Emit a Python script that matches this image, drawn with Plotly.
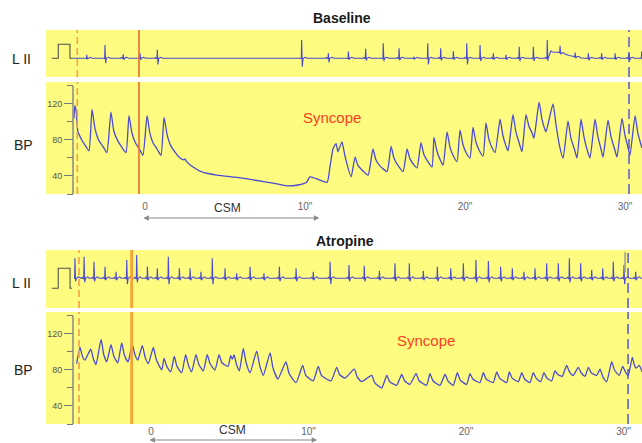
import numpy as np
import plotly.graph_objects as go

# ------------------------------------------------------------------
# Baseline recording
# ------------------------------------------------------------------
# arterial pressure trace, vertices (time in s, pressure in mmHg)
bp_base_t = [-4.44, -4.38, -4.3, -4.2, -3.95, -3.7, -3.5,
             -3.31, -3.12, -2.9, -2.6, -2.38,
             -2.13, -1.95, -1.7, -1.45, -1.19,
             -1.0, -0.82, -0.6, -0.35, -0.13,
             0.13, 0.3, 0.5, 0.75, 1.0,
             1.19, 1.38, 1.6, 1.9, 2.19, 2.44, 2.5, 2.6, 3.0, 3.63, 4.5, 5.94,
             7.0, 8.0, 8.88, 9.56, 10.1, 10.3, 10.7, 11.38,
             11.56, 11.75, 11.94, 12.06, 12.31, 12.5, 12.88,
             13.13, 13.3, 13.6, 13.94,
             14.25, 14.43, 14.7, 15.13,
             15.38, 15.56, 15.8, 16.13,
             16.38, 16.56, 16.78, 17.0,
             17.25, 17.43, 17.68, 17.94,
             18.06, 18.24, 18.45, 18.63,
             18.88, 19.06, 19.28, 19.5,
             19.69, 19.87, 20.1, 20.31,
             20.5, 20.68, 20.9, 21.13,
             21.31, 21.49, 21.7, 21.88,
             22.19, 22.37, 22.55, 22.69,
             23.0, 23.18, 23.4, 23.56,
             23.81, 24.0, 24.19, 24.31,
             24.63, 24.8, 24.95, 25.06,
             25.5, 25.68, 25.9, 26.13,
             26.44, 26.62, 26.85, 27.0,
             27.25, 27.43, 27.62, 27.81,
             28.13, 28.3, 28.5, 28.63,
             28.94, 29.12, 29.35, 29.5,
             29.81, 30.0, 30.2, 30.31,
             30.63, 30.8, 31.06]
bp_base_v = [104, 118, 112, 90, 80, 73, 68,
             114, 92, 80, 72, 66,
             111, 90, 79, 72, 66,
             107, 88, 77, 70, 63,
             107, 88, 77, 70, 63,
             105, 86, 74, 66, 60, 58, 59, 56, 50, 44, 41, 38,
             35, 32, 29, 30, 33, 39, 37, 33,
             50, 70, 76, 67, 78, 62, 39,
             61, 52, 46, 41,
             70, 58, 51, 45,
             73, 60, 52, 45,
             70, 59, 53, 49,
             77, 64, 56, 50,
             83, 68, 58, 52,
             89, 72, 62, 56,
             91, 75, 65, 60,
             94, 78, 68, 62,
             99, 81, 71, 66,
             103, 85, 74, 68,
             108, 89, 76, 67,
             108, 95, 88, 82,
             122, 104, 94, 89,
             120, 98, 74, 60,
             101, 82, 69, 60,
             103, 84, 70, 60,
             103, 84, 70, 61,
             102, 84, 70, 61,
             104, 85, 71, 63,
             107, 88, 71]

# lead II: beat times (s), R and S amplitudes (mV)
ecg_base_t = [-3.64, -2.5, -1.36, -0.31, 0.77, 9.79, 11.46, 12.71, 13.79, 14.89,
              15.88, 16.81, 17.67, 18.48, 19.27, 20.11, 20.94, 21.77, 22.56, 23.39,
              24.27, 25.14, 25.94, 26.88, 27.71, 28.54, 29.38, 30.25, 31.04]
ecg_base_r = [0.24, 0.95, 0.29, 0.36, 0.6, 1.31, 0.36, 0.48, 0.67, 1.07,
              0.71, 0.12, 1.07, 0.71, 0.52, 1.07, 0.95, 0.36, 0.24, 0.83,
              0.83, 1.31, 0.48, 0.29, 0.36, 0.36, 0.36, 0.36, 0.48]
ecg_base_s = [-0.05, -0.35, -0.1, -0.1, -0.45, -0.6, -0.3, -0.1, -0.15, -0.2,
              -0.15, -0.05, -0.45, -0.15, -0.1, -0.45, -0.2, -0.1, -0.1, -0.2,
              -0.2, -0.2, -0.1, -0.1, -0.15, -0.1, -0.1, -0.15, -0.1]
# baseline wander after the beat at ~25 s
ecg_base_drift_t = [25.2, 25.35, 25.9, 26.5, 27.4]
ecg_base_drift_v = [0.0, 0.45, 0.42, 0.2, 0.0]

# ------------------------------------------------------------------
# Atropine recording
# ------------------------------------------------------------------
bp_atro_t = [-4.72, -4.51, -4.35, -4.19,
             -3.83, -3.65, -3.49,
             -3.17, -3.0, -2.81,
             -2.54, -2.35, -2.11,
             -1.86, -1.68, -1.46,
             -1.19, -1.02, -0.84,
             -0.55, -0.37, -0.17,
             0.15, 0.33, 0.68,
             0.83, 1.0, 1.25,
             1.48, 1.65, 1.95,
             2.2, 2.38, 2.58,
             2.86, 3.04, 3.32,
             3.57, 3.75, 4.06,
             4.32, 4.5, 4.89,
             5.06, 5.17, 5.27, 5.43, 5.61,
             5.86, 6.04, 6.29,
             6.71, 6.9, 7.13,
             7.56, 7.75, 8.06,
             8.57, 8.77, 9.21,
             9.63, 9.83, 10.3,
             10.62, 10.82, 11.43,
             11.79, 11.97, 12.32,
             12.91, 13.1, 13.38,
             14.01, 14.2, 14.65,
             14.97, 15.16, 15.6,
             15.92, 16.1, 16.44,
             16.83, 17.02, 17.5,
             17.71, 17.9, 18.35,
             18.67, 18.85, 19.19,
             19.45, 19.63, 20.04,
             20.25, 20.43, 20.89,
             21.1, 21.28, 21.73,
             21.95, 22.13, 22.58,
             22.75, 22.93, 23.32,
             23.54, 23.72, 24.06,
             24.27, 24.45, 24.74,
             24.95, 25.13, 25.44,
             25.65, 25.83, 26.11,
             26.39, 26.57, 26.81,
             27.13, 27.3, 27.56,
             27.77, 27.95, 28.3,
             28.51, 28.7, 28.93,
             29.25, 29.43, 29.73,
             29.95, 30.12, 30.3,
             30.56, 30.68, 30.79,
             31.0, 31.17]
bp_atro_v = [87, 105, 95, 91,
             103, 92, 86,
             114, 97, 89,
             108, 95, 88,
             110, 96, 89,
             108, 97, 91,
             107, 94, 87,
             105, 92, 80,
             93, 84, 78,
             95, 84, 77,
             97, 85, 78,
             97, 86, 79,
             97, 87, 80,
             97, 88, 84,
             96, 92, 97, 86, 79,
             104, 88, 77,
             101, 85, 74,
             99, 82, 70,
             89, 76, 66,
             85, 74, 68,
             84, 74, 68,
             83, 75, 71,
             81, 72, 67,
             74, 66, 60,
             74, 67, 63,
             75, 68, 64,
             76, 68, 63,
             76, 68, 63,
             75, 68, 63,
             77, 69, 64,
             76, 70, 66,
             77, 70, 66,
             78, 71, 66,
             78, 71, 67,
             77, 70, 66,
             77, 71, 67,
             77, 71, 68,
             79, 75, 73,
             85, 78, 74,
             83, 77, 73,
             83, 77, 74,
             81, 72, 67,
             89, 80, 74,
             84, 78, 74,
             94, 86, 82,
             85, 78]

ecg_atro_t = [-4.83, -4.25, -3.62, -2.92, -2.22, -1.54, -0.91, -0.23, 0.4, 1.1,
              1.8, 2.48, 3.17, 3.89, 4.7, 5.44, 6.29, 7.17, 8.15, 9.21,
              10.3, 11.37, 12.57, 13.54, 14.5, 15.49, 16.4, 17.29, 18.18, 19.03,
              19.83, 20.63, 21.42, 22.2, 22.94, 23.68, 24.38, 25.12, 25.86, 26.56,
              27.28, 27.98, 28.68, 29.35, 30.03, 30.77]
ecg_atro_r = [1.0, 1.08, 0.83, 0.58, 0.33, 0.92, 1.17, 0.58, 0.5, 1.08,
              0.5, 0.5, 0.33, 1.0, 0.5, 0.25, 0.58, 0.25, 0.58, 0.5,
              0.33, 0.83, 0.67, 0.63, 0.37, 0.75, 0.75, 0.37, 0.58, 0.5,
              0.75, 0.92, 0.87, 0.58, 0.5, 0.33, 0.5, 0.75, 0.75, 1.0,
              0.75, 0.42, 0.5, 0.83, 0.67, 0.33]
ecg_atro_s = [-0.15, -0.2, -0.15, -0.1, -0.1, -0.3, -0.2, -0.1, -0.1, -0.3,
              -0.1, -0.1, -0.1, -0.3, -0.1, -0.1, -0.1, -0.1, -0.15, -0.15,
              -0.1, -0.3, -0.15, -0.15, -0.1, -0.15, -0.15, -0.1, -0.15, -0.1,
              -0.15, -0.2, -0.2, -0.15, -0.1, -0.1, -0.1, -0.15, -0.15, -0.2,
              -0.15, -0.1, -0.1, -0.15, -0.3, -0.1]

# event markers (s): recording start, massage onset, end of window
base_marks = {"start": -4.23, "csm": -0.375, "end": 30.25}
atro_marks = {"start": -4.57, "csm": -1.23, "end": 30.29}
# carotid sinus massage interval drawn under each BP strip
base_csm = (-0.2, 10.9)
atro_csm = (-0.2, 10.55)

# calibration pulse (1 mV) ahead of each ECG strip: (times, levels)
cal_base = ([-5.83, -5.42, -5.42, -4.69, -4.69, -4.44], [0, 0, 1, 1, 0, 0])
cal_atro = ([-6.3, -5.89, -5.89, -5.14, -5.14, -5.03], [-0.5, -0.5, 0.5, 0.5, -0.5, -0.5])

time_ticks = [0, 10, 20, 30]
time_text = ["0", '10"', '20"', '30"']
bp_major = [40, 80, 120]
bp_minor = [20, 60, 100, 140]

# ------------------------------------------------------------------
W, H = 642, 443
YELLOW = "#fdfc80"
BLUE = "#4a4ad4"


def px(x):
    return x / W


def py(y):
    return 1 - y / H


def ecg_path(t_start, t_end, beats, r_amp, s_amp, drift_t=(), drift_v=()):
    """Lead II trace: flat baseline with one QRS-T complex per beat."""
    pts = [(t_start, 0.0), (t_end, 0.0)]
    pts += [(t, 0.0) for t in drift_t]
    for tb, r, s in zip(beats, r_amp, s_amp):
        for dt, v in ((-0.16, 0.0), (-0.11, 0.05), (-0.06, 0.0), (-0.02, -0.04),
                      (0.0, r), (0.04, s), (0.09, 0.0), (0.22, 0.07), (0.34, 0.0)):
            pts.append((tb + dt, v))
    pts = sorted(p for p in pts if t_start <= p[0] <= t_end)
    xs = np.array([p[0] for p in pts])
    ys = np.array([p[1] for p in pts])
    if len(drift_t):
        ys = ys + np.interp(xs, drift_t, drift_v, left=0, right=0)
    return xs, ys


fig = go.Figure()

# strip geometry (pixel rows of each yellow band)
bands = {
    "y": (30, 77), "y2": (82, 194),
    "y3": (250, 308), "y4": (312, 424),
}
xdom = [px(46), 1.0]
base_range = [(46 - 145) / 16, (642 - 145) / 16]
atro_range = [(46 - 151) / 15.75, (642 - 151) / 15.75]

bp_line = dict(color=BLUE, width=1.3, shape="spline", smoothing=0.5)

# --- traces ---
ex, ey = ecg_path(-4.44, 31.06, ecg_base_t, ecg_base_r, ecg_base_s,
                  ecg_base_drift_t, ecg_base_drift_v)
fig.add_trace(go.Scatter(x=cal_base[0], y=cal_base[1], mode="lines",
                         line=dict(color="#505050", width=1.1), xaxis="x", yaxis="y"))
fig.add_trace(go.Scatter(x=ex, y=ey, mode="lines", line=dict(color=BLUE, width=1.1),
                         xaxis="x", yaxis="y"))
fig.add_trace(go.Scatter(x=bp_base_t, y=bp_base_v, mode="lines",
                         line=bp_line, xaxis="x2", yaxis="y2"))

ax_, ay_ = ecg_path(-4.85, 31.17, ecg_atro_t, ecg_atro_r, ecg_atro_s)
fig.add_trace(go.Scatter(x=cal_atro[0], y=cal_atro[1], mode="lines",
                         line=dict(color="#505050", width=1.1), xaxis="x3", yaxis="y3"))
fig.add_trace(go.Scatter(x=ax_, y=ay_, mode="lines", line=dict(color=BLUE, width=1.1),
                         xaxis="x3", yaxis="y3"))
fig.add_trace(go.Scatter(x=bp_atro_t, y=bp_atro_v, mode="lines",
                         line=bp_line, xaxis="x4", yaxis="y4"))

# --- axes ---
hidden_x = dict(domain=xdom, visible=False)
time_x = dict(domain=xdom, showgrid=False, zeroline=False, showline=False, ticks="",
              tickvals=time_ticks, ticktext=time_text,
              tickfont=dict(family="Liberation Sans, Arial", size=10, color="#666666"))
bp_y = dict(anchor="free", position=px(73), range=[20, 144.4], showgrid=False,
            zeroline=False, showline=False, ticks="outside", ticklen=9,
            tickcolor="#777777", tickwidth=1, tickvals=bp_major,
            tickfont=dict(family="Liberation Sans, Arial", size=9, color="#555555"),
            minor=dict(tickvals=bp_minor, ticks="outside", ticklen=6,
                       tickcolor="#777777", tickwidth=1))

fig.update_layout(
    width=W, height=H, margin=dict(l=0, r=0, t=0, b=0),
    paper_bgcolor="white", plot_bgcolor=YELLOW, showlegend=False,
    xaxis=dict(hidden_x, range=base_range, anchor="y"),
    xaxis2=dict(time_x, range=base_range, anchor="y2"),
    xaxis3=dict(hidden_x, range=atro_range, anchor="y3"),
    xaxis4=dict(time_x, range=atro_range, anchor="y4"),
    yaxis=dict(domain=[py(bands["y"][1]), py(bands["y"][0])], range=[-1.34, 2.02],
               visible=False, anchor="x"),
    yaxis2=dict(bp_y, domain=[py(bands["y2"][1]), py(bands["y2"][0])]),
    yaxis3=dict(domain=[py(bands["y3"][1]), py(bands["y3"][0])], range=[-1.485, 1.415],
                visible=False, anchor="x3"),
    yaxis4=dict(bp_y, domain=[py(bands["y4"][1]), py(bands["y4"][0])]),
)
fig.update_xaxes(ticklabelstandoff=5, selector=dict(anchor="y2"))
fig.update_xaxes(ticklabelstandoff=0, selector=dict(anchor="y4"))

shapes = []
# BP axis spines
for yref in ("y2", "y4"):
    shapes.append(dict(type="line", xref="paper", yref=yref, x0=px(73), x1=px(73),
                       y0=20, y1=140, line=dict(color="#888888", width=1.5)))


def vmarks(xref, yrefs, marks, csm_color, csm_width):
    out = []
    for yr in yrefs:
        out.append(dict(type="line", xref=xref, yref=yr + " domain", x0=marks["start"],
                        x1=marks["start"], y0=0, y1=1,
                        line=dict(color="#f5a04a", width=1.6, dash="7px,4px")))
        out.append(dict(type="line", xref=xref, yref=yr + " domain", x0=marks["csm"],
                        x1=marks["csm"], y0=0, y1=1,
                        line=dict(color=csm_color, width=csm_width)))
        out.append(dict(type="line", xref=xref, yref=yr + " domain", x0=marks["end"],
                        x1=marks["end"], y0=0, y1=1,
                        line=dict(color="#4a4ad0", width=1.4, dash="10px,5px")))
    return out


shapes += vmarks("x", ["y"], base_marks, "#f2692e", 1.6)
shapes += vmarks("x2", ["y2"], base_marks, "#f2692e", 1.6)
shapes += vmarks("x3", ["y3"], atro_marks, "#f7a234", 2.8)
shapes += vmarks("x4", ["y4"], atro_marks, "#f7a234", 2.8)
# grey cursor tick on the atropine ECG
shapes.append(dict(type="line", xref="x3", yref="y3", x0=30.1, x1=30.1, y0=0.3, y1=1.3,
                   line=dict(color="#9a9a9a", width=1.5)))
fig.update_layout(shapes=shapes)

FONT = "Liberation Sans, Arial"
ann = []


def label(x, y, text, size, color="#222222", bold=False):
    ann.append(dict(xref="paper", yref="paper", x=px(x), y=py(y),
                    text=f"<b>{text}</b>" if bold else text,
                    showarrow=False, xanchor="center", yanchor="middle",
                    font=dict(family=FONT, size=size, color=color)))


label(342, 18, "Baseline", 14, "#1a1a1a", bold=True)
label(345, 241, "Atropine", 14, "#1a1a1a", bold=True)
label(22, 59, "L II", 14)
label(24, 145, "BP", 14)
label(22, 283, "L II", 14)
label(24, 370, "BP", 14)
label(332, 117, "Syncope", 15, "#ff3d1f")
label(426, 340, "Syncope", 15, "#ff3d1f")
label(227, 208, "CSM", 12, "#333333")
label(232, 430, "CSM", 12, "#333333")

for xr, (c0, c1), yy in (("x2", base_csm, 218), ("x4", atro_csm, 440)):
    ann.append(dict(xref=xr, yref="paper", x=c1, y=py(yy), axref=xr, ayref="pixel",
                    ax=c0, ay=0, text="", showarrow=True, arrowside="end+start",
                    arrowhead=2, arrowsize=1, arrowwidth=1.1, arrowcolor="#8a8a8a"))
fig.update_layout(annotations=ann)

fig.write_html("out.html")
